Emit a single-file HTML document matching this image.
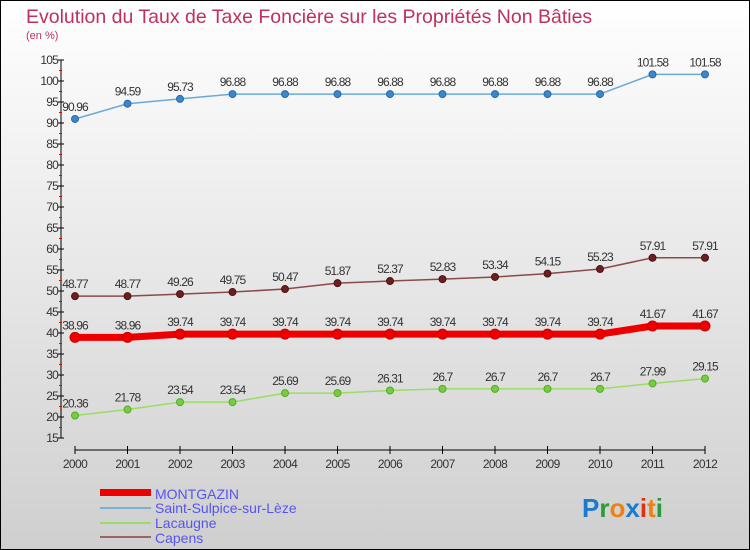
<!DOCTYPE html>
<html><head><meta charset="utf-8"><style>
body{margin:0;}
#wrap{width:750px;height:550px;position:relative;overflow:hidden;font-family:"Liberation Sans",sans-serif;}
svg{display:block}
</style></head><body>
<div id="wrap">
<svg id="c" width="750" height="550" xmlns="http://www.w3.org/2000/svg">
<defs><linearGradient id="bg" x1="0" y1="0" x2="0" y2="1"><stop offset="0" stop-color="#ffffff"/><stop offset="1" stop-color="#cfcfcf"/></linearGradient></defs>
<rect x="0.5" y="0.5" width="749" height="549" fill="url(#bg)" stroke="#000"/>
<text x="26" y="23" font-size="19.5" fill="#c0305a">Evolution du Taux de Taxe Foncière sur les Propriétés Non Bâties</text>
<text x="26" y="39" font-size="11" fill="#c0305a">(en %)</text>
<g id="axes"></g><g id="series"></g>
<g>
<rect x="100" y="489" width="51" height="7" fill="#ee0000"/>
<text x="155" y="499" font-size="14" fill="#5555ee">MONTGAZIN</text>
<line x1="100" y1="508" x2="151" y2="508" stroke="#7ab0d8" stroke-width="2"/>
<text x="155" y="513" font-size="14" fill="#5555ee">Saint-Sulpice-sur-Lèze</text>
<line x1="100" y1="523" x2="151" y2="523" stroke="#99dd66" stroke-width="2"/>
<text x="155" y="528" font-size="14" fill="#5555ee">Lacaugne</text>
<line x1="100" y1="537" x2="151" y2="537" stroke="#996666" stroke-width="2"/>
<text x="155" y="543" font-size="14" fill="#5555ee">Capens</text>
</g>
<text x="582" y="517" font-size="26" font-weight="bold"><tspan fill="#1a7ad0">P</tspan><tspan fill="#2a9a3a">r</tspan><tspan fill="#f08010">o</tspan><tspan fill="#1a7ad0">x</tspan><tspan fill="#e03010">i</tspan><tspan fill="#f08010">t</tspan><tspan fill="#2a9a3a">i</tspan></text>
</svg></div>
<script>
const years=[2000,2001,2002,2003,2004,2005,2006,2007,2008,2009,2010,2011,2012];
const yTicks=[15,20,25,30,35,40,45,50,55,60,65,70,75,80,85,90,95,100,105];
const montgazin=[38.96,38.96,39.74,39.74,39.74,39.74,39.74,39.74,39.74,39.74,39.74,41.67,41.67];
const saintSulpice=[90.96,94.59,95.73,96.88,96.88,96.88,96.88,96.88,96.88,96.88,96.88,101.58,101.58];
const lacaugne=[20.36,21.78,23.54,23.54,25.69,25.69,26.31,26.7,26.7,26.7,26.7,27.99,29.15];
const capens=[48.77,48.77,49.26,49.75,50.47,51.87,52.37,52.83,53.34,54.15,55.23,57.91,57.91];
const NS="http://www.w3.org/2000/svg";
const X=i=>75+i*52.5, Y=v=>438-(v-15)*4.2;
function mk(t,a,p){const e=document.createElementNS(NS,t);for(const k in a)e.setAttribute(k,a[k]);p.appendChild(e);return e;}
const ax=document.getElementById('axes'), sg=document.getElementById('series');
let e=mk('line',{x1:61,y1:60,x2:61,y2:438,stroke:'#000'},ax);


e=mk('line',{x1:75,y1:450,x2:705,y2:450,stroke:'#000'},ax);


yTicks.forEach(v=>{
  mk('line',{x1:58,y1:Y(v),x2:64,y2:Y(v),stroke:'#000'},ax);
  if(v<105) mk('line',{x1:59,y1:Y(v+2.5),x2:62,y2:Y(v+2.5),stroke:'#e00'},ax);
  const t=mk('text',{x:58,y:Y(v)+4,'font-size':12,'text-anchor':'end',fill:'#333','letter-spacing':'-0.8'},ax);
  t.textContent=v;
  
  
});
years.forEach((y,i)=>{
  mk('line',{x1:X(i),y1:446,x2:X(i),y2:454,stroke:'#000'},ax);
  const t=mk('text',{x:X(i),y:468,'font-size':12,'text-anchor':'middle',fill:'#333','letter-spacing':'-0.6'},ax);
  t.textContent=y;
  
  
});
function series(d,name,col,w,r,dot,dotStroke){
  const g=mk('g',{},sg);
  
  
  const p=mk('polyline',{points:d.map((v,i)=>X(i)+','+Y(v)).join(' '),fill:'none',stroke:col,'stroke-width':w,'stroke-linejoin':'round'},g);
  
  
  d.forEach((v,i)=>{
    const c=mk('circle',{cx:X(i),cy:Y(v),r:r,fill:dot,stroke:dotStroke},g);
    
    
    const t=mk('text',{x:X(i),y:Y(v)-8,'font-size':12,'text-anchor':'middle',fill:'#333','letter-spacing':'-0.9'},g);
    t.textContent=v;
    
    
  });
}
series(saintSulpice,'saint-sulpice','#6aaad8',1.5,3.5,'#3a88c8','#2a68a8');
series(capens,'capens','#8a4a4a',1.5,3.5,'#6a2020','#501010');
series(lacaugne,'lacaugne','#99dd66',1.5,3.5,'#77cc44','#55aa22');
series(montgazin,'montgazin','#ee0000',7,5,'#ee0000','#cc0000');
</script>
</body></html>
